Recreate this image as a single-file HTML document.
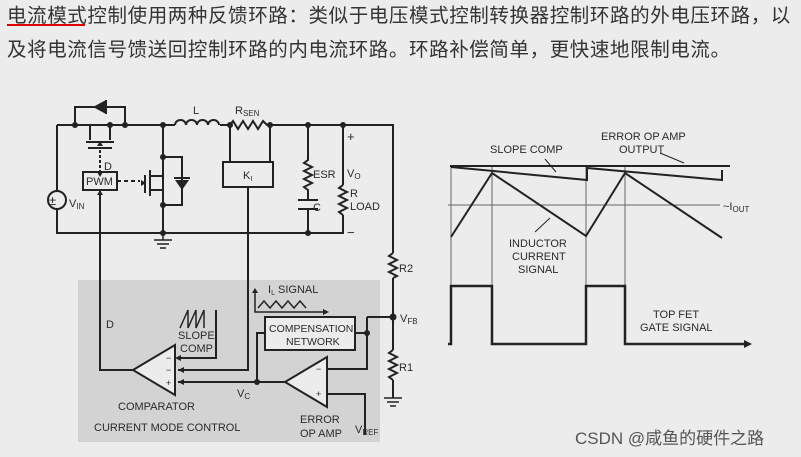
<!DOCTYPE html>
<html><head><meta charset="utf-8"><style>
body{margin:0;width:801px;height:457px;background:#ececec;overflow:hidden;position:relative}
.t{position:absolute;left:7px;font-family:"Liberation Sans","Noto Sans CJK SC",sans-serif;font-size:19.5px;color:#333;white-space:nowrap;letter-spacing:0.6px}
svg{position:absolute;left:0;top:0}
</style></head><body>
<div class="t" style="top:-1px">电流模式控制使用两种反馈环路：类似于电压模式控制转换器控制环路的外电压环路，以</div>
<div class="t" style="top:33px">及将电流信号馈送回控制环路的内电流环路。环路补偿简单，更快速地限制电流。</div>
<div style="position:absolute;left:7px;top:24px;width:78px;height:2px;background:#d00"></div>
<svg width="801" height="457" viewBox="0 0 801 457">
<rect x="78" y="280" width="302" height="162" fill="#d3d3d3"/>
<g stroke="#222" stroke-width="2" fill="none">
<path d="M57 125H175M220 125H230M270 125H393V253M393 278V350M393 380V398"/>
<path d="M57 125V191M57 209V233H343V215"/>
<path d="M343 125V185"/>
<path d="M75 125V107H125V125"/>
<path d="M88 148H112M90 125V140M110 125V140M86 142H114"/>
<path d="M100 150V172" stroke-dasharray="3 2"/>
<rect x="83" y="172" width="34" height="18" fill="#ececec"/>
<path d="M175 125a5.5 5 0 0 1 11 0a5.5 5 0 0 1 11 0a5.5 5 0 0 1 11 0a5.5 5 0 0 1 11 0"/>
<path d="M230 125l3-4 5 8 5-8 5 8 5-8 5 8 5-8 4 4H270"/>
<path d="M230 125V162M270 125V162"/>
<rect x="223" y="162" width="50" height="25" fill="#ececec"/>
<path d="M248 187V370H178"/>
<path d="M163 125V233M163 157H182V205H163M150 170V196M145 175V193M150 176H163M150 190H163"/>
<path d="M117 181H140" stroke-dasharray="4 3"/>
<path d="M308 125V160l-4 3 8 4-8 4 8 4-8 4 8 4-8 4 4 3V200M298 200H318M298 209H318M308 209V233"/>
<path d="M343 185l-4 3 8 4-8 4 8 4-8 4 8 4-8 4 4 3"/>
<path d="M393 253l-4 3 8 4-8 4 8 4-8 4 8 4-4 2"/>
<path d="M393 350l-4 3 8 4-8 4 8 4-8 4 8 4-8 4 4 3V380"/>
<path d="M384 398H402M387 402H399M390 406H396" stroke-width="1.5"/>
<path d="M163 233V240M154 240H172M157 244H169M160 248H166" stroke-width="1.5"/>
<path d="M100 190V370H133"/>
<path d="M133 370L175 345V395Z" fill="#ececec"/>
<path d="M216 310V358H178"/>
<path d="M180 328l8-18v18l8-18v18l8-18v18" stroke-width="1.5"/>
<path d="M285 382H178"/>
<path d="M285 382L327 357V407Z" fill="#ececec"/>
<rect x="265" y="317" width="90" height="33" fill="#ececec"/>
<path d="M265 333H257V382"/>
<path d="M355 333H367M367 317V369H327M367 317H393"/>
<path d="M327 394H365V435"/>
<path d="M255 292V312H325" stroke-width="1.5"/>
<path d="M258 308l6-7 6 7 6-7 6 7 6-7 6 7 6-7 6 7" stroke-width="1.5"/>
</g>
<g fill="#222">
<circle cx="57" cy="200" r="9" fill="#ececec" stroke="#222" stroke-width="2"/>
<circle cx="75" cy="125" r="3"/><circle cx="110" cy="125" r="3"/><circle cx="125" cy="125" r="3"/>
<circle cx="163" cy="125" r="3"/><circle cx="230" cy="125" r="3"/><circle cx="270" cy="125" r="3"/>
<circle cx="308" cy="125" r="3"/><circle cx="343" cy="125" r="3"/><circle cx="163" cy="157" r="3"/>
<circle cx="163" cy="205" r="3"/><circle cx="163" cy="233" r="3"/><circle cx="308" cy="233" r="3"/>
<circle cx="393" cy="317" r="3.5"/><circle cx="367" cy="333" r="3"/><circle cx="257" cy="382" r="3"/>
<path d="M93 107L106 100V114Z"/><path d="M106 100V114" stroke="#222" stroke-width="2"/>
<path d="M182 190L175 180H189Z"/><path d="M174 178H190" stroke="#222" stroke-width="2"/>
<path d="M100 141l-3 5h6z"/><path d="M100 172l-3 5h6z" transform="rotate(180 100 174.5)"/>
<path d="M175 358l6-3v6zM178 370l6-3v6zM178 382l6-3v6zM255 288l-3 5h6zM329 312l-6-3v6zM146 183l-5-3v6z"/>
<path d="M100 190l-3 5h6z"/>
</g>
<g font-family="Liberation Sans" font-size="11" fill="#2a2a2a">
<text x="49" y="205" font-size="13">±</text>
<text x="69" y="207">V<tspan font-size="8" dy="2">IN</tspan></text>
<text x="104" y="170">D</text>
<text x="86" y="185">PWM</text>
<text x="193" y="114">L</text>
<text x="235" y="114">R<tspan font-size="8" dy="2">SEN</tspan></text>
<text x="243" y="179">K<tspan font-size="7" dy="2">I</tspan></text>
<text x="313" y="178">ESR</text>
<text x="313" y="211">C</text>
<text x="347" y="141" font-size="13">+</text>
<text x="347" y="177">V<tspan font-size="8" dy="2">O</tspan></text>
<text x="350" y="197">R</text>
<text x="350" y="210">LOAD</text>
<text x="347" y="237" font-size="13">−</text>
<text x="399" y="272">R2</text>
<text x="400" y="322">V<tspan font-size="8" dy="2">FB</tspan></text>
<text x="399" y="371">R1</text>
<text x="106" y="328">D</text>
<text x="178" y="339">SLOPE</text>
<text x="180" y="352">COMP</text>
<text x="268" y="293">I<tspan font-size="7" dy="2">L</tspan><tspan dy="-2"> SIGNAL</tspan></text>
<text x="269" y="332" font-size="10.5">COMPENSATION</text>
<text x="286" y="345" font-size="10.5">NETWORK</text>
<text x="166" y="361" font-size="9">−</text><text x="166" y="373" font-size="9">−</text><text x="166" y="386" font-size="9">+</text>
<text x="316" y="372" font-size="9">−</text><text x="316" y="397" font-size="9">+</text>
<text x="237" y="397">V<tspan font-size="8" dy="2">C</tspan></text>
<text x="118" y="410">COMPARATOR</text>
<text x="94" y="431">CURRENT MODE CONTROL</text>
<text x="300" y="423">ERROR</text>
<text x="300" y="437">OP AMP</text>
<text x="355" y="433">V<tspan font-size="8" dy="2">REF</tspan></text>
<text x="490" y="153">SLOPE COMP</text>
<text x="601" y="140">ERROR OP AMP</text>
<text x="619" y="153">OUTPUT</text>
<text x="723" y="210">~I<tspan font-size="8" dy="2">OUT</tspan></text>
<text x="509" y="247">INDUCTOR</text>
<text x="512" y="260">CURRENT</text>
<text x="518" y="273">SIGNAL</text>
<text x="653" y="318">TOP FET</text>
<text x="640" y="331">GATE SIGNAL</text>
</g>
<g stroke="#222" fill="none">
<path d="M451 167V345M492 167V345M586 167V345M625 167V345M448 205H720" stroke-width="1" stroke="#666"/>
<path d="M450 166H730" stroke-width="2"/>
<path d="M451 237L492 173L586 236L625 173L722 238" stroke-width="2"/>
<path d="M451 167L587 180V168L722 180V170" stroke-width="2"/>
<path d="M448 344H451V286H492V344H586V286H625V344H745" stroke-width="2.5"/>
<path d="M660 153L684 163M545 159L556 172M535 232L550 218" stroke-width="1"/>
</g>
<path d="M752 344l-8-4v8z" fill="#222"/>
<text x="575" y="444" font-family="Liberation Sans,Noto Sans CJK SC,sans-serif" font-size="17" fill="#555">CSDN @咸鱼的硬件之路</text>
</svg>
</body></html>
